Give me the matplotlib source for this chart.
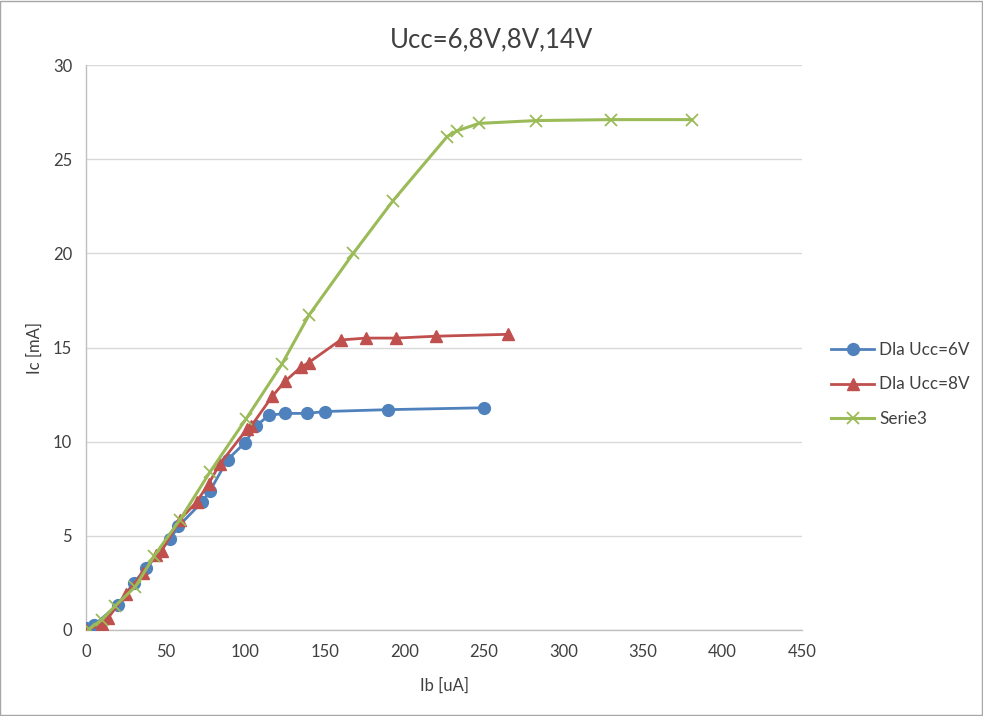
import matplotlib
matplotlib.use("Agg")
import matplotlib.pyplot as plt
from matplotlib.patches import Rectangle

plt.rcParams['font.family'] = ['Lato', 'DejaVu Sans']

title = "Ucc=6,8V,8V,14V"
xlabel = "Ib [uA]"
ylabel = "Ic [mA]"

ib_6v = [0, 5, 20, 30, 38, 53, 58, 73, 78, 89, 100, 107, 115, 125, 139, 150, 190, 250]
ic_6v = [0.1, 0.25, 1.35, 2.5, 3.3, 4.85, 5.5, 6.8, 7.4, 9.05, 9.95, 10.85, 11.4, 11.5, 11.5, 11.6, 11.7, 11.8]

ib_8v = [0, 10, 14, 25, 36, 44, 47.5, 59, 69.5, 77, 84, 101, 104, 117, 125, 135, 140, 160, 176, 195, 220, 265]
ic_8v = [0, 0.3, 0.65, 1.9, 3.05, 4.0, 4.2, 5.85, 6.8, 7.75, 8.8, 10.65, 10.85, 12.4, 13.2, 13.95, 14.2, 15.4, 15.5, 15.5, 15.6, 15.7]

ib_s3 = [2, 10, 18, 31, 43, 59, 78, 100.5, 123, 140, 168, 193, 227, 233, 247, 283, 330, 381]
ic_s3 = [0.05, 0.55, 1.25, 2.3, 3.95, 5.85, 8.4, 11.2, 14.1, 16.7, 20.0, 22.8, 26.2, 26.5, 26.9, 27.05, 27.1, 27.1]

labels = ["Dla Ucc=6V", "Dla Ucc=8V", "Serie3"]
colors = ["#4F81BD", "#C0504D", "#9BBB59"]

xticks = [0, 50, 100, 150, 200, 250, 300, 350, 400, 450]
yticks = [0, 5, 10, 15, 20, 25, 30]

fig = plt.figure(figsize=(9.83, 7.16), dpi=100)
ax = fig.add_axes([86/983, 1-630/716, (802-86)/983, (630-65)/716])

ax.plot(ib_6v, ic_6v, color=colors[0], lw=2.0, marker='o', ms=8.5, label=labels[0], zorder=3)
ax.plot(ib_8v, ic_8v, color=colors[1], lw=2.0, marker='^', ms=9, label=labels[1], zorder=3)
ax.plot(ib_s3, ic_s3, color=colors[2], lw=2.2, marker='x', ms=8, mew=1.3, label=labels[2], zorder=4)

ax.set_xlim(0, 450)
ax.set_ylim(0, 30)
ax.set_xticks(xticks)
ax.set_yticks(yticks)
ax.tick_params(length=0, labelsize=12, colors='#404040', pad=10)
ax.grid(axis='y', color='#d9d9d9', lw=1)
ax.set_axisbelow(True)
for s in ['top', 'right']:
    ax.spines[s].set_visible(False)
for s in ['left', 'bottom']:
    ax.spines[s].set_color('#bfbfbf')
    ax.spines[s].set_linewidth(1)

ax.set_xlabel(xlabel, fontsize=12, color='#404040', labelpad=13)
ax.set_ylabel(ylabel, fontsize=12, color='#404040', labelpad=7.5)
fig.text(0.5, 1-40/716, title, ha='center', va='center', fontsize=18.5, color='#404040')

leg = fig.legend(loc='center left', bbox_to_anchor=(0.830, 0.463), frameon=False,
                 fontsize=12.3, handlelength=2.5, labelspacing=1.1, handletextpad=0.3)
for t in leg.get_texts():
    t.set_color('#404040')

fig.add_artist(Rectangle((0.0005, 0.0007), 0.998, 0.998, transform=fig.transFigure,
                         fill=False, edgecolor='#a6a6a6', lw=1))

fig.savefig("out.png", dpi=100)
